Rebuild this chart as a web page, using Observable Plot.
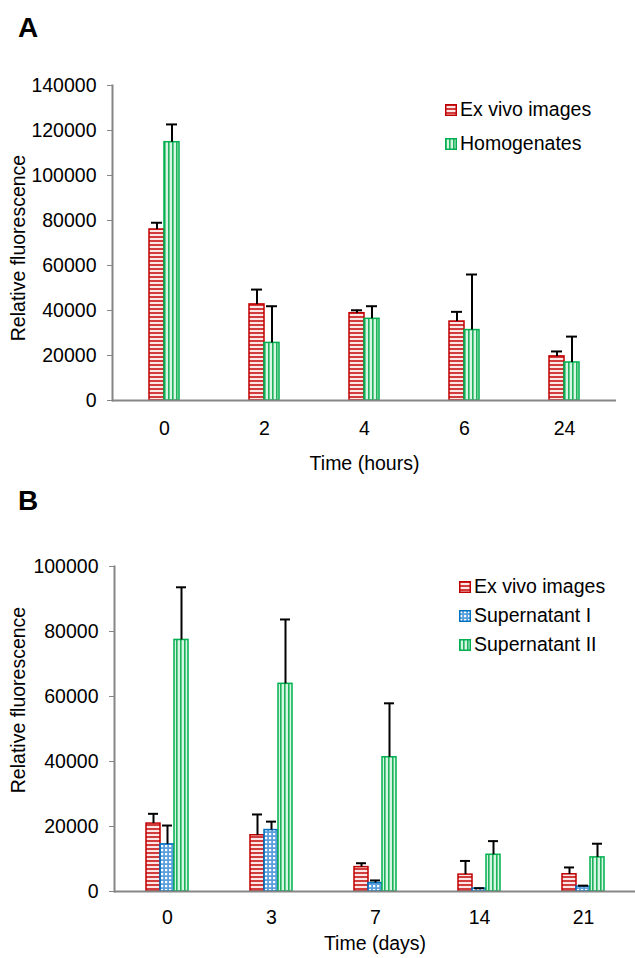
<!DOCTYPE html>
<html><head><meta charset="utf-8">
<script src="https://cdn.jsdelivr.net/npm/d3@7"></script>
<script src="https://cdn.jsdelivr.net/npm/@observablehq/plot@0.6"></script>
<style>
body{margin:0;background:#fff;font-family:"Liberation Sans",Arial,sans-serif;}
#wrap{position:relative;width:635px;height:958px;overflow:hidden;}
.panel{position:absolute;left:0;}
.letter{position:absolute;font-weight:bold;font-size:28px;line-height:1;}
.legend{position:absolute;font-size:19.5px;line-height:1;}
.legend .row{display:flex;align-items:center;white-space:nowrap;}
.legend svg{margin-right:3px;}
</style></head>
<body>
<svg width="0" height="0" style="position:absolute">
<defs>
<pattern id="pRed" width="4" height="4" patternUnits="userSpaceOnUse">
<rect width="4" height="4" fill="#fde6e6"/><rect width="4" height="2" fill="#d23c3c"/>
</pattern>
<pattern id="pGreen" width="4" height="4" patternUnits="userSpaceOnUse">
<rect width="4" height="4" fill="#d6f5e2"/><rect width="1.6" height="4" fill="#1db35a"/>
</pattern>
<pattern id="pBlue" width="4" height="4" patternUnits="userSpaceOnUse">
<rect width="4" height="4" fill="#5b9fdc"/><rect x="1" y="1" width="2.2" height="2.2" fill="#ffffff"/>
</pattern>
</defs>
</svg>
<div id="wrap"></div>
<script>
// ---- Panel A data ----
const hoursA = ["0", "2", "4", "6", "24"];
const exVivoA = [76000, 42700, 38800, 35100, 19600];
const exVivoAErr = [3000, 6600, 1300, 4300, 2200];
const homogA = [114800, 25600, 36300, 31300, 16900];
const homogAErr = [7900, 16300, 5600, 24700, 11500];
const yTicksA = [0, 20000, 40000, 60000, 80000, 100000, 120000, 140000];
const seriesA = ["Ex vivo images", "Homogenates"];

// ---- Panel B data ----
const daysB = ["0", "3", "7", "14", "21"];
const exVivoB = [20900, 17300, 7500, 5200, 5300];
const exVivoBErr = [3000, 6400, 1200, 4200, 2100];
const supIB = [14500, 18900, 2600, 900, 1500];
const supIBErr = [5800, 2600, 800, 100, 300];
const supIIB = [77400, 63900, 41300, 11300, 10500];
const supIIBErr = [16200, 19800, 16600, 4200, 4200];
const yTicksB = [0, 20000, 40000, 60000, 80000, 100000];
const seriesB = ["Ex vivo images", "Supernatant I", "Supernatant II"];

const fills = {"Ex vivo images": "url(#pRed)", "Homogenates": "url(#pGreen)", "Supernatant I": "url(#pBlue)", "Supernatant II": "url(#pGreen)"};
const strokes = {"Ex vivo images": "#c00000", "Homogenates": "#00b050", "Supernatant I": "#0070c0", "Supernatant II": "#00b050"};

const rows = (cats, vals, errs) => cats.map((c, i) => ({time: c, value: vals[i], top: vals[i] + errs[i]}));
const font = "'Liberation Sans', Arial, sans-serif";
const wrap = document.getElementById("wrap");

function groupMarks(data, name, bw, idx, n) {
  const w = bw / n;
  const left = idx * w, right = bw - (idx + 1) * w;
  const center = left + w / 2 - bw / 2;
  return [
    Plot.barY(data, {x: "time", y: "value", fill: fills[name], stroke: strokes[name], strokeWidth: 1.5, insetLeft: left, insetRight: right}),
    Plot.ruleX(data, {x: "time", y1: "value", y2: "top", dx: center, stroke: "black", strokeWidth: 2}),
    Plot.tickY(data, {x: "time", y: "top", insetLeft: left + 2, insetRight: right + 2, stroke: "black", strokeWidth: 2})
  ];
}

function panel({cats, series, top, height, marginTop, marginBottom, marginLeft, marginRight, padInner, bw, yTicks, xLabel, xTickPad, xLabelOffset, yLabelDx, yLabelDy}) {
  const marks = [];
  series.forEach((s, i) => marks.push(...groupMarks(s.data, s.name, bw, i, series.length)));
  const svg = Plot.plot({
    width: 635, height, marginTop, marginBottom, marginLeft, marginRight,
    style: {fontFamily: font, fontSize: "19.5px", color: "black", background: "transparent"},
    x: {type: "band", domain: cats, paddingInner: padInner, paddingOuter: padInner / 2},
    y: {domain: [0, yTicks[yTicks.length - 1]]},
    marks: [
      ...marks,
      Plot.ruleY([0], {stroke: "#868686", strokeWidth: 2}),
      Plot.frame({anchor: "left", stroke: "#868686", strokeWidth: 2}),
      Plot.axisY({ticks: yTicks, tickFormat: d3.format("d"), tickSize: 5, stroke: "#868686", tickPadding: 11, label: null}),
      Plot.text(["Relative fluorescence"], {frameAnchor: "left", rotate: -90, textAnchor: "middle", lineAnchor: "middle",
        dx: yLabelDx, dy: yLabelDy, fontSize: 19.5, fill: "black"}),
      Plot.axisX({tickSize: 0, tickPadding: xTickPad, label: xLabel, labelAnchor: "center", labelArrow: "none", labelOffset: xLabelOffset})
    ]
  });
  svg.classList.add("panel");
  svg.style.top = top + "px";
  wrap.appendChild(svg);
}

panel({cats: hoursA, top: 0, height: 480, marginTop: 85, marginBottom: 80, marginLeft: 112, marginRight: 19,
  padInner: 1 - 30 / 100.6, bw: 30, yTicks: yTicksA, xLabel: "Time (hours)", xTickPad: 21, xLabelOffset: 69, yLabelDx: -94, yLabelDy: 5,
  series: [{name: seriesA[0], data: rows(hoursA, exVivoA, exVivoAErr)}, {name: seriesA[1], data: rows(hoursA, homogA, homogAErr)}]});

panel({cats: daysB, top: 480, height: 478, marginTop: 86, marginBottom: 67, marginLeft: 114, marginRight: 0,
  padInner: 1 - 42 / 104.2, bw: 42, yTicks: yTicksB, xLabel: "Time (days)", xTickPad: 19, xLabelOffset: 58, yLabelDx: -96, yLabelDy: -29,
  series: [{name: seriesB[0], data: rows(daysB, exVivoB, exVivoBErr)}, {name: seriesB[1], data: rows(daysB, supIB, supIBErr)}, {name: seriesB[2], data: rows(daysB, supIIB, supIIBErr)}]});

// letters
[["A", 14], ["B", 487]].forEach(([t, y]) => {
  const d = document.createElement("div");
  d.className = "letter"; d.textContent = t; d.style.left = "18px"; d.style.top = y + "px";
  wrap.appendChild(d);
});

// legends
function legend(names, left, top, rowH) {
  const d = document.createElement("div");
  d.className = "legend"; d.style.left = left + "px"; d.style.top = top + "px";
  names.forEach(n => {
    const r = document.createElement("div");
    r.className = "row"; r.style.height = rowH + "px";
    r.innerHTML = `<svg width="12" height="12"><rect x="0.75" y="0.75" width="10.5" height="10.5" fill="${fills[n]}" stroke="${strokes[n]}" stroke-width="1.5"/></svg><span>${n}</span>`;
    d.appendChild(r);
  });
  wrap.appendChild(d);
}
legend(seriesA, 445, 93, 34);
legend(seriesB, 459, 572, 29);
</script>
</body></html>
